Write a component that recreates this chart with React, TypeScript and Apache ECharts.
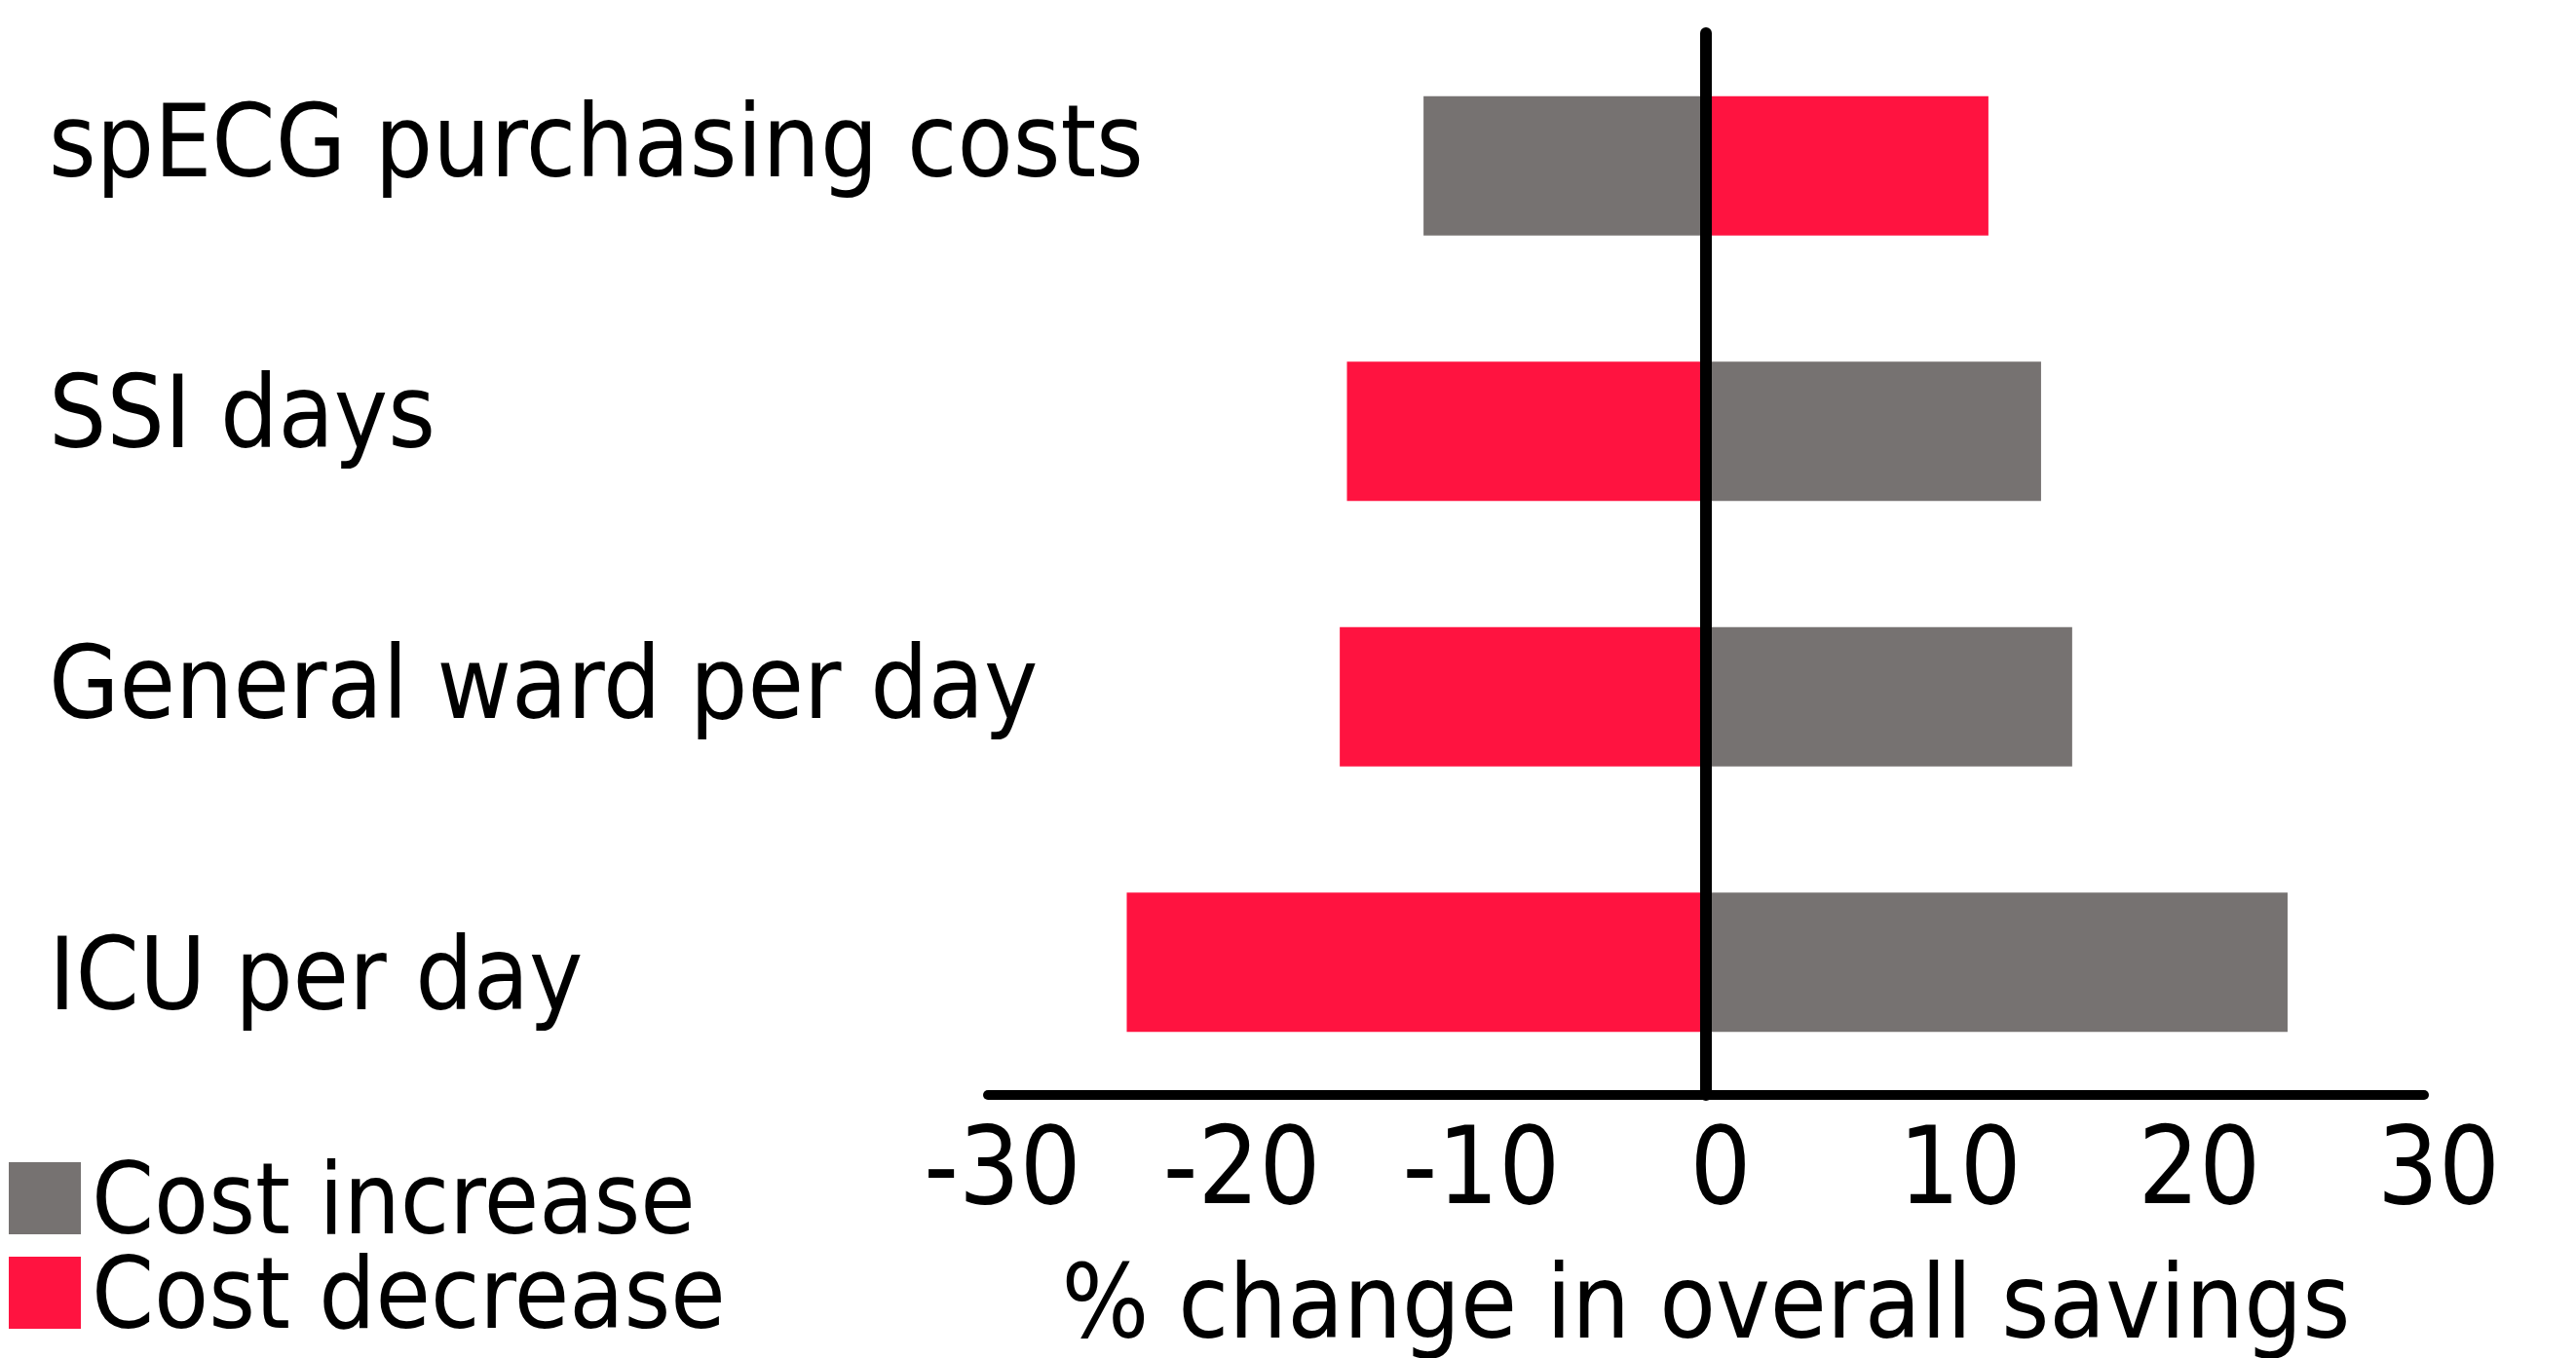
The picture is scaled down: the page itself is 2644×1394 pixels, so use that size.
import React, { useEffect, useRef } from "react";
import * as echarts from "echarts";

const categories = [
  "spECG purchasing costs",
  "SSI days",
  "General ward per day",
  "ICU per day",
];
const costIncrease = [-11.8, 14.0, 15.3, 24.3];
const costDecrease = [11.8, -15.0, -15.3, -24.2];
const seriesNames = ["Cost increase", "Cost decrease"];
const xTicks = [-30, -20, -10, 0, 10, 20, 30];
const axisTitle = "% change in overall savings";

const FONT = "'DejaVu Sans Condensed', 'DejaVu Sans', sans-serif";
const GRAY = "#767271";
const RED = "#FF1340";

const legendText = {
  fontFamily: FONT,
  fontSize: 102,
  color: "#000",
  lineHeight: 80,
  padding: [0, 0, 0, 6],
};

const labelStyleKeys = ["a", "b", "c", "d"];
const catLabel = (pad: number[]) => ({
  fontFamily: FONT,
  fontSize: 104,
  color: "#000",
  padding: pad,
});

export default function App() {
  const ref = useRef<HTMLDivElement>(null);
  useEffect(() => {
    if (!ref.current) return;
    const chart = echarts.init(ref.current, undefined, { renderer: "svg" });
    chart.setOption({
      animation: false,
      backgroundColor: "#ffffff",
      grid: { left: 1014, right: 2644 - 2488, top: 34, bottom: 260, containLabel: false },
      legend: [
        {
          orient: "vertical",
          left: 4,
          top: 1174,
          itemWidth: 74,
          itemHeight: 74,
          icon: "rect",
          data: [seriesNames[0]],
          textStyle: legendText,
        },
        {
          orient: "vertical",
          left: 4,
          top: 1271,
          itemWidth: 74,
          itemHeight: 74,
          icon: "rect",
          data: [seriesNames[1]],
          textStyle: legendText,
        },
      ],
      xAxis: {
        type: "value",
        min: xTicks[0],
        max: xTicks[xTicks.length - 1],
        interval: 10,
        splitLine: { show: false },
        axisTick: { show: false },
        axisLine: { show: true, onZero: false, lineStyle: { color: "#000", width: 10 } },
        axisLabel: {
          fontFamily: FONT,
          fontSize: 110,
          color: "#000",
          margin: 18,
          padding: [0, 0, 0, 30],
        },
        name: axisTitle,
        nameLocation: "middle",
        nameGap: 160,
        nameTextStyle: { fontFamily: FONT, fontSize: 105, color: "#000" },
      },
      yAxis: {
        type: "category",
        data: categories,
        inverse: true,
        z: 5,
        axisTick: { show: false },
        axisLine: { show: true, onZero: true, lineStyle: { color: "#000", width: 12 } },
        axisLabel: {
          color: "#000",
          align: "left",
          margin: 1014 - 50,
          formatter: (v: string, i: number) => `{${labelStyleKeys[i] || "d"}|${v}}`,
          rich: {
            a: catLabel([0, 0, 50, 0]),
            b: catLabel([0, 0, 40, 0]),
            c: catLabel([0, 0, 28, 0]),
            d: catLabel([24, 0, 0, 0]),
          },
        },
      },
      series: [
        {
          name: seriesNames[0],
          type: "bar",
          data: costIncrease,
          barWidth: 143,
          barGap: "-100%",
          itemStyle: { color: GRAY },
        },
        {
          name: seriesNames[1],
          type: "bar",
          data: costDecrease,
          barWidth: 143,
          barGap: "-100%",
          itemStyle: { color: RED },
        },
      ],
    });
    return () => chart.dispose();
  }, []);
  return (
    <div
      ref={ref}
      style={{ position: "fixed", left: 0, top: 0, width: 2644, height: 1394 }}
    />
  );
}
